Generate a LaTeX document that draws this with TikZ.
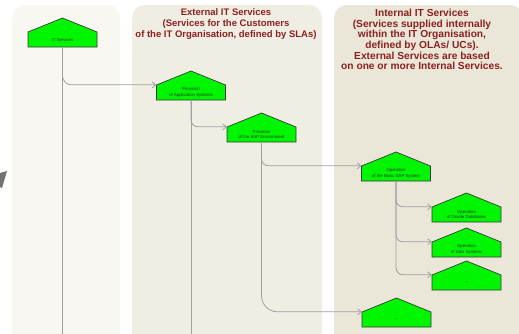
\documentclass[tikz,border=0pt]{standalone}
\usepackage{fontspec}
\setmainfont{Liberation Sans}
\usetikzlibrary{arrows.meta}
\definecolor{colA}{RGB}{248,247,241}
\definecolor{colB}{RGB}{240,237,227}
\definecolor{colC}{RGB}{234,230,216}
\definecolor{hgreen}{RGB}{0,245,0}
\definecolor{hborder}{RGB}{55,60,55}
\definecolor{connc}{RGB}{160,160,160}
\definecolor{headc}{RGB}{140,32,32}
\newcommand\housenode[4]{%
  \filldraw[hshape] ({#2-34.5},{#3+15}) -- ({#2-34.5},#3) -- (#2,{#3-14}) -- ({#2+34.5},#3) -- ({#2+34.5},{#3+15}) -- cycle;
  \node[htext] (#1) at (#2,{#3+7.5}) {#4};}
\begin{document}
\begin{tikzpicture}[x=1pt,y=-1pt,
  panel/.style={rounded corners=13pt},
  hshape/.style={fill=hgreen,draw=hborder,line width=0.7pt,line join=miter},
  htext/.style={minimum width=69pt,minimum height=15pt,inner sep=0pt,align=center,
    font=\fontsize{4.3}{5.6}\selectfont,text=black!80},
  conn/.style={draw=connc,line width=0.8pt},
  arr/.style={-{Straight Barb[length=3.5pt,width=6pt]}},
  head/.style={text=headc,align=center,font=\fontsize{9.5}{10.8}\selectfont\bfseries},
  headw/.style={text=headc,align=center,font=\fontsize{10.2}{10.65}\selectfont\bfseries}]
\useasboundingbox (0,0) rectangle (519,333);
\fill[white] (0,0) rectangle (519,333);
% panels
\fill[colA,panel] (12,350) -- (12,5) -- (120,5) -- (120,350) [sharp corners] -- cycle;
\fill[colB,panel] (132,350) -- (132,5) -- (322,5) -- (322,350) [sharp corners] -- cycle;
\fill[colC,panel] (334,350) -- (334,5) -- (523,5) -- (523,350) [sharp corners] -- cycle;
% small grey mark at left edge
\fill[black!55] (0,173) -- (7,171) -- (2,188) -- (0,187) -- cycle;
% headings
\node[head] (h2) at (226,24) {External IT Services\\(Services for the Customers\\of the IT Organisation, defined by SLAs)};
\node[headw] (h3) at (422,39.5) {Internal IT Services\\(Services supplied internally\\within the IT Organisation,\\defined by OLAs/ UCs).\\External Services are based\\on one or more Internal Services.};
% nodes
\housenode{it}{62.5}{32}{IT Services}
\housenode{app}{191}{85}{Provision\\of Application Systems}
\housenode{sap}{261.5}{127}{Provision\\of the SAP Environment}
\housenode{basic}{396}{166}{Operation\\of the Basic SAP System}
\housenode{ora}{466.5}{207}{Operation\\of Oracle Databases}
\housenode{unix}{466.5}{242}{Operation\\of Unix Systems}
\housenode{dots}{466.5}{275}{--}
\housenode{bot}{396.5}{312}{--}
\coordinate (itend) at (62.5,340);
\coordinate (append) at (191,340);
% connectors
\draw[conn] (it.south) -- (itend);
\draw[conn,arr,rounded corners=9pt] (it.south) |- (app.north west);
\draw[conn] (app.south) -- (append);
\draw[conn,arr,rounded corners=7pt] (app.south) |- (sap.north west);
\draw[conn,arr,rounded corners=7pt] (sap.south) |- (basic.north west);
\draw[conn,arr,rounded corners=16pt] (sap.south) |- (bot.north west);
\draw[conn,arr,rounded corners=7pt] (basic.south) |- (ora.north west);
\draw[conn,arr,rounded corners=7pt] (basic.south) |- (unix.north west);
\draw[conn,arr,rounded corners=7pt] (basic.south) |- (dots.north west);
\end{tikzpicture}
\end{document}
